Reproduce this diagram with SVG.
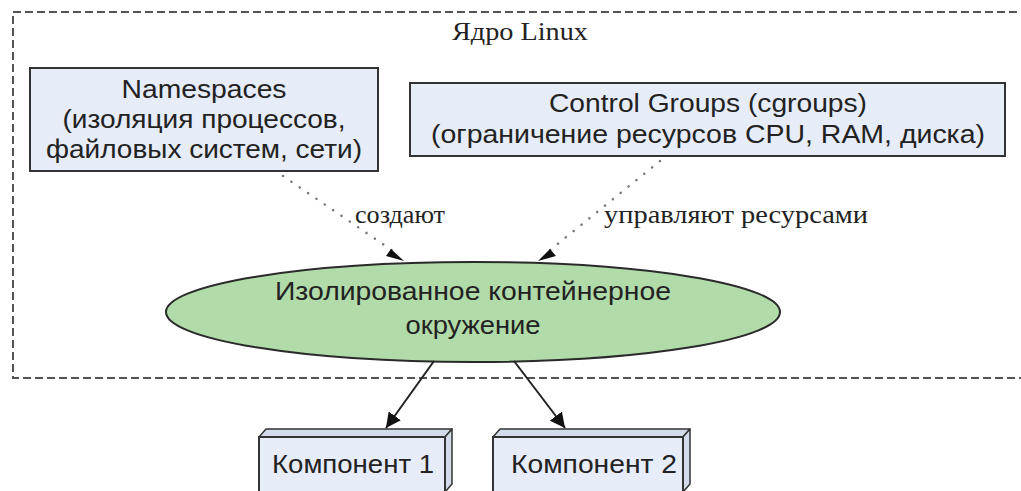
<svg xmlns="http://www.w3.org/2000/svg" width="1021" height="491" viewBox="0 0 1021 491">
  <defs>
    <marker id="head" viewBox="0 0 10 10" refX="10" refY="5" markerWidth="15" markerHeight="15" markerUnits="userSpaceOnUse" orient="auto">
      <path d="M0,0 L10,5 L0,10 z" fill="#111"/>
    </marker>
    <style>
      .box { fill: #e6ecf8; stroke: #333; stroke-width: 2; }
      .side { fill: #d3dbea; stroke: #333; stroke-width: 1.5; stroke-linejoin: round; }
      .sans { font-family: "Liberation Sans", Arial, sans-serif; fill: #222; text-anchor: middle; font-size: 26px; }
      .serif { font-family: "Liberation Serif", "Times New Roman", serif; fill: #222; font-size: 26px; }
      .dotted { fill: none; stroke: #777; stroke-width: 2.5; stroke-dasharray: 0.1 10; stroke-linecap: round; }
      .solid { fill: none; stroke: #222; stroke-width: 2; }
    </style>
  </defs>
  <rect width="1021" height="491" fill="#fff"/>

  <!-- kernel cluster (right edge runs past the canvas) -->
  <g id="cluster-kernel">
    <rect x="13" y="12" width="1020" height="366" fill="none" stroke="#555" stroke-width="2" stroke-dasharray="8 4"/>
    <text class="serif" x="452" y="40" textLength="136" lengthAdjust="spacingAndGlyphs">Ядро Linux</text>
  </g>

  <g id="node-namespaces">
    <rect class="box" x="30" y="68" width="348" height="103"/>
    <text class="sans" x="204" y="98" textLength="165" lengthAdjust="spacingAndGlyphs">Namespaces</text>
    <text class="sans" x="204" y="128" textLength="283" lengthAdjust="spacingAndGlyphs">(изоляция процессов,</text>
    <text class="sans" x="204" y="158" textLength="316" lengthAdjust="spacingAndGlyphs">файловых систем, сети)</text>
  </g>

  <g id="node-cgroups">
    <rect class="box" x="410" y="83" width="595" height="73"/>
    <text class="sans" x="708" y="112" textLength="318" lengthAdjust="spacingAndGlyphs">Control Groups (cgroups)</text>
    <text class="sans" x="708" y="143" textLength="554" lengthAdjust="spacingAndGlyphs">(ограничение ресурсов CPU, RAM, диска)</text>
  </g>

  <g id="node-container">
    <ellipse cx="473" cy="312" rx="307" ry="50" fill="#b2dbaa" stroke="#2a2a2a" stroke-width="2"/>
    <text class="sans" x="473" y="300" textLength="396" lengthAdjust="spacingAndGlyphs" fill="#142814">Изолированное контейнерное</text>
    <text class="sans" x="473" y="334" textLength="135" lengthAdjust="spacingAndGlyphs" fill="#142814">окружение</text>
  </g>

  <g id="node-component1">
    <polygon class="side" points="259,437 266,429 452,429 445,437"/>
    <polygon class="side" points="445,437 452,429 452,484 445,492"/>
    <rect class="box" x="259" y="437" width="186" height="56"/>
    <text class="sans" x="353" y="473" textLength="162" lengthAdjust="spacingAndGlyphs">Компонент 1</text>
  </g>

  <g id="node-component2">
    <polygon class="side" points="493,437 500,429 690,429 683,437"/>
    <polygon class="side" points="683,437 690,429 690,484 683,492"/>
    <rect class="box" x="493" y="437" width="190" height="56"/>
    <text class="sans" x="594" y="473" textLength="166" lengthAdjust="spacingAndGlyphs">Компонент 2</text>
  </g>

  <!-- connectors -->
  <g id="connectors">
    <line class="dotted" x1="283" y1="176" x2="393" y2="251"/>
    <path d="M391,249 L404,261 L386,256 z" fill="#111"/>
    <text class="serif" x="355" y="223" textLength="90" lengthAdjust="spacingAndGlyphs">создают</text>

    <line class="dotted" x1="660" y1="161" x2="549" y2="251"/>
    <path d="M550,249 L538,261 L556,256 z" fill="#111"/>
    <text class="serif" x="604" y="223" textLength="264" lengthAdjust="spacingAndGlyphs">управляют ресурсами</text>

    <line class="solid" x1="434" y1="361" x2="386" y2="428" marker-end="url(#head)"/>
    <line class="solid" x1="514" y1="361" x2="565" y2="428" marker-end="url(#head)"/>
  </g>
</svg>
